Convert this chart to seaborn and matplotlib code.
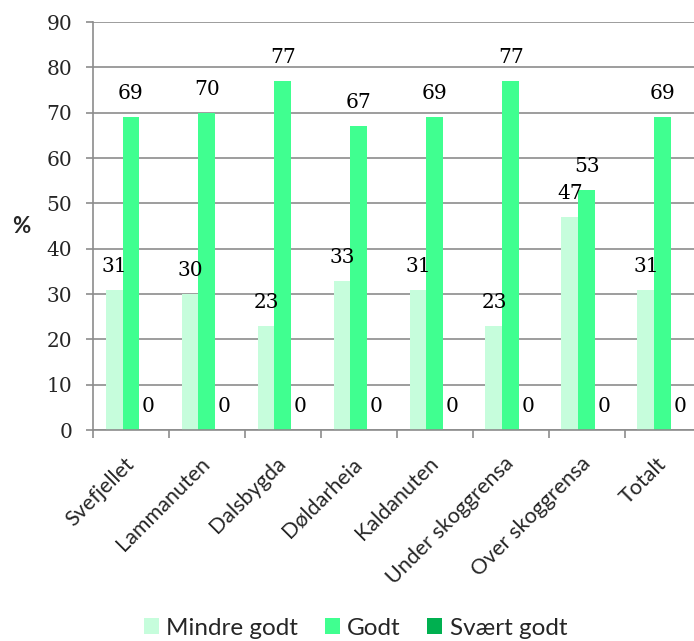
import pandas as pd
import seaborn as sns
import matplotlib.pyplot as plt

# data
places = ["Svefjellet", "Lammanuten", "Dalsbygda", "Døldarheia", "Kaldanuten",
          "Under skoggrensa", "Over skoggrensa", "Totalt"]
mindre_godt = [31, 30, 23, 33, 31, 23, 47, 31]
godt = [69, 70, 77, 67, 69, 77, 53, 69]
svaert_godt = [0, 0, 0, 0, 0, 0, 0, 0]
series = ["Mindre godt", "Godt", "Svært godt"]
colors = ["#c6fddc", "#40ff90", "#00b050"]
yticks = list(range(0, 91, 10))

df = pd.DataFrame({
    "sted": places * 3,
    "kategori": [s for s in series for _ in places],
    "prosent": mindre_godt + godt + svaert_godt,
})

sns.set_style("white")
plt.rcParams["font.family"] = ["Lato", "DejaVu Sans"]

fig = plt.figure(figsize=(6.94, 6.41), dpi=100)
ax = fig.add_axes([0.134, 0.329, 0.876, 0.6365])

sns.barplot(data=df, x="sted", y="prosent", hue="kategori", hue_order=series,
            palette=dict(zip(series, colors)), width=0.67, saturation=1,
            linewidth=0, ax=ax, legend=True, errorbar=None)

for cont in ax.containers:
    ax.bar_label(cont, fmt="%d", padding=10, fontsize=14.5,
                 family="DejaVu Serif", color="black")

grid_c = "#8c8c8c"
ax.set_ylim(0, 90)
ax.set_yticks(yticks)
ax.set_xlim(-0.5, len(places) - 0.5)
ax.yaxis.grid(True, color=grid_c, linewidth=1.2)
ax.set_axisbelow(True)
for side in ["top", "right"]:
    ax.spines[side].set_visible(False)
for side in ["left", "bottom"]:
    ax.spines[side].set_color(grid_c)
    ax.spines[side].set_linewidth(1.2)

ax.tick_params(axis="y", left=True, length=5, width=1.2, color=grid_c, pad=10)
for lab in ax.get_yticklabels():
    lab.set_family("DejaVu Serif")
    lab.set_fontsize(14.5)

# category ticks sit between the groups
ax.set_xticks([i - 0.5 for i in range(len(places) + 1)], minor=True)
ax.tick_params(axis="x", which="minor", bottom=True, length=6, width=1.2, color=grid_c)
ax.tick_params(axis="x", which="major", bottom=False, length=0, pad=22)
ax.set_xticks(range(len(places)))
ax.set_xticklabels(places, rotation=45, ha="right", va="center",
                   rotation_mode="anchor", fontsize=15.5)

ax.set_xlabel("")
ax.set_ylabel("%", rotation=0, fontsize=16, fontweight="bold")
ax.yaxis.set_label_coords(-0.118, 0.50)
ax.yaxis.label.set_va("center")

ax.legend_.remove()
handles, labels = ax.get_legend_handles_labels()
fig.legend(handles[:3], labels[:3], loc="center", bbox_to_anchor=(0.512, 0.02),
           ncol=3, frameon=False, fontsize=17.5, handlelength=0.62, handleheight=0.62,
           handletextpad=0.3, columnspacing=1.1)

fig.savefig("out.png", dpi=100)
